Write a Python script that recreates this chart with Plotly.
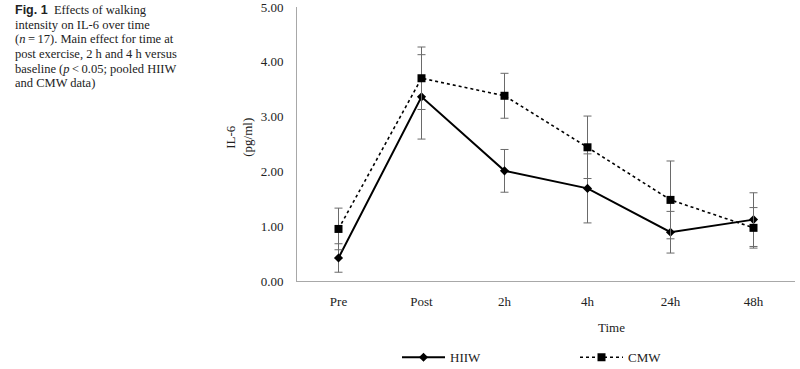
import plotly.graph_objects as go

categories = ["Pre", "Post", "2h", "4h", "24h", "48h"]
hiiw_mean = [0.42, 3.36, 2.01, 1.69, 0.89, 1.12]
hiiw_sd = [0.26, 0.77, 0.39, 0.63, 0.38, 0.49]
cmw_mean = [0.95, 3.70, 3.38, 2.44, 1.48, 0.97]
cmw_sd = [0.38, 0.57, 0.41, 0.57, 0.71, 0.37]
y_ticks = [0, 1, 2, 3, 4, 5]
y_tick_labels = ["0.00", "1.00", "2.00", "3.00", "4.00", "5.00"]
caption_lines = [
    "<span style='font-family:Liberation Sans'><b>Fig. 1</b></span>  Effects of walking",
    "intensity on IL-6 over time",
    "(<i>n</i>\u2009=\u200917). Main effect for time at",
    "post exercise, 2 h and 4 h versus",
    "baseline (<i>p</i>\u2009&lt;\u20090.05; pooled HIIW",
    "and CMW data)",
]

SERIF = "Liberation Serif"
W, H = 800, 369
L, R, T, B = 297, 5, 7, 87.5
pw = W - L - R
ph = H - T - B

def px(x):
    return (x - L) / pw

def py(y):
    return (H - B - y) / ph

fig = go.Figure()
fig.add_trace(go.Scatter(
    x=categories, y=hiiw_mean, name="HIIW", mode="lines+markers",
    line=dict(color="black", width=2, dash="solid"),
    marker=dict(symbol="diamond", size=7, color="black"),
    error_y=dict(type="data", array=hiiw_sd, visible=True, color="#6a6a6a",
                 thickness=1, width=4),
))
fig.add_trace(go.Scatter(
    x=categories, y=cmw_mean, name="CMW", mode="lines+markers",
    line=dict(color="black", width=1.6, dash="dot"),
    marker=dict(symbol="square", size=8, color="black"),
    error_y=dict(type="data", array=cmw_sd, visible=True, color="#6a6a6a",
                 thickness=1, width=4),
))

annotations = [
    dict(text="IL-6<br>(pg/ml)", textangle=-90, xref="paper", yref="paper",
         x=px(239), y=py(138), xanchor="center", yanchor="middle", showarrow=False,
         font=dict(family=SERIF, size=13, color="#222")),
    dict(text="Time", xref="paper", yref="paper", x=px(611), y=py(328),
         xanchor="center", yanchor="middle", showarrow=False,
         font=dict(family=SERIF, size=13, color="#222")),
]
for i, line in enumerate(caption_lines):
    annotations.append(dict(
        text=line, xref="paper", yref="paper", x=px(13), y=py(10 + 14.7 * i),
        xanchor="left", yanchor="middle", align="left", showarrow=False,
        font=dict(family=SERIF, size=12.5, color="#222")))

fig.update_layout(
    width=W, height=H,
    margin=dict(l=L, r=R, t=T, b=B, pad=0, autoexpand=False),
    paper_bgcolor="white", plot_bgcolor="white",
    font=dict(family=SERIF, size=13, color="#222"),
    showlegend=True,
    legend=dict(orientation="h", x=px(397), y=py(358), xanchor="left", yanchor="middle",
                entrywidth=120, entrywidthmode="pixels",
                font=dict(family=SERIF, size=13, color="#222"),
                bgcolor="rgba(0,0,0,0)", itemwidth=43),
    xaxis=dict(type="category", range=[-0.5, 5.5], showline=True, linecolor="#a8a8a8",
               linewidth=1, showgrid=False, zeroline=False, ticks="", automargin=False,
               ticklabelstandoff=8, tickfont=dict(family=SERIF, size=13, color="#222")),
    yaxis=dict(range=[0, 5], tickvals=y_ticks, ticktext=y_tick_labels, showline=True,
               linecolor="#a8a8a8", linewidth=1, showgrid=False, zeroline=False,
               ticks="", ticklabelstandoff=10, automargin=False, ticklabeloverflow="allow",
               tickfont=dict(family=SERIF, size=13, color="#222")),
    annotations=annotations,
)

fig.write_html("out.html", config={"displayModeBar": False},
               post_script="document.body.style.margin='0';")
